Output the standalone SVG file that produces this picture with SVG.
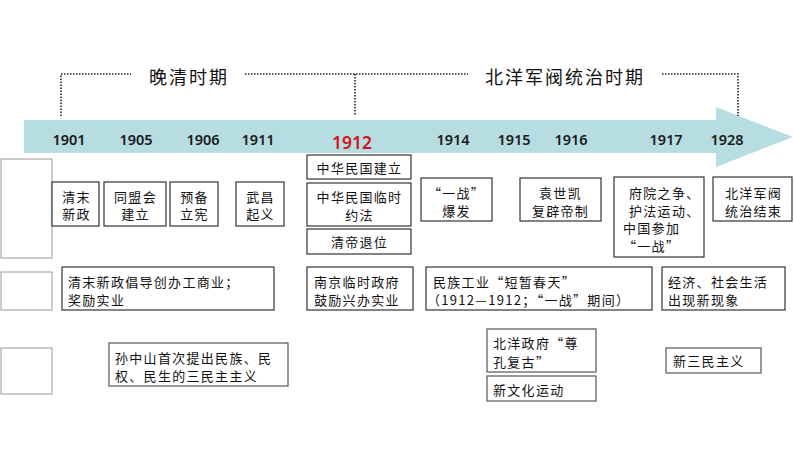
<svg xmlns="http://www.w3.org/2000/svg" width="794" height="450" viewBox="0 0 794 450">
<style>
.t{font-family:"Noto Sans CJK SC","Noto Sans",sans-serif;font-size:13px;fill:#111;dominant-baseline:central;letter-spacing:1.3px}
.c{text-anchor:middle}
.yr{font-family:"Noto Sans","Liberation Sans",sans-serif;font-size:14.5px;fill:#1a1a1a;text-anchor:middle;font-weight:600}
.ttl{font-family:"Noto Sans CJK SC",sans-serif;font-size:18px;fill:#111;dominant-baseline:central;text-anchor:middle;letter-spacing:2px}
.b{fill:#fff;stroke:#333;stroke-width:1.2}
.g{fill:#fff;stroke:#999;stroke-width:1}
.dot{fill:none;stroke:#222;stroke-width:1.6;stroke-dasharray:1.5 1.5}
</style>
<rect width="794" height="450" fill="#fff"/>
<g id="timeline">
<polygon points="24,120 716,120 716,107 793,137 716,167 716,153 24,153" fill="#b6dde1"/>
<text class="yr" x="69" y="145">1901</text>
<text class="yr" x="136" y="145">1905</text>
<text class="yr" x="203" y="145">1906</text>
<text class="yr" x="258" y="145">1911</text>
<text class="yr" x="352" y="149" style="font-size:17.5px;fill:#d0151b">1912</text>
<text class="yr" x="453" y="145">1914</text>
<text class="yr" x="514" y="145">1915</text>
<text class="yr" x="571" y="145">1916</text>
<text class="yr" x="666" y="145">1917</text>
<text class="yr" x="727" y="145">1928</text>
</g>
<g id="connectors">
<polyline class="dot" points="61,116 61,74 131,74"/>
<line class="dot" x1="245" y1="74" x2="468" y2="74"/>
<line class="dot" x1="355" y1="74" x2="355" y2="116"/>
<polyline class="dot" points="662,74 738,74 738,116"/>
</g>
<g id="period-late-qing"><text class="ttl" x="189" y="76">晚清时期</text></g>
<g id="period-beiyang"><text class="ttl" x="565" y="76">北洋军阀统治时期</text></g>
<g id="left-frames">
<rect class="g" x="1" y="159" width="51" height="99"/>
<rect class="g" x="1" y="272" width="51" height="38"/>
<rect class="g" x="1" y="348" width="51" height="46"/>
</g>
<g id="n1901"><rect class="b" x="52" y="182" width="47" height="44"/><text class="t c"><tspan x="76.5" y="195.5">清末</tspan><tspan x="76.5" y="213">新政</tspan></text></g>
<g id="n1905"><rect class="b" x="104" y="182" width="62" height="44"/><text class="t c"><tspan x="135.5" y="195.5">同盟会</tspan><tspan x="135.5" y="213">建立</tspan></text></g>
<g id="n1906"><rect class="b" x="170" y="182" width="48" height="44"/><text class="t c"><tspan x="194.5" y="195.5">预备</tspan><tspan x="194.5" y="213">立宪</tspan></text></g>
<g id="n1911"><rect class="b" x="236" y="182" width="48" height="44"/><text class="t c"><tspan x="260.5" y="195.5">武昌</tspan><tspan x="260.5" y="213">起义</tspan></text></g>
<g id="n1912a"><rect class="b" x="307" y="155" width="104" height="24"/><text class="t c" x="359.5" y="167">中华民国建立</text></g>
<g id="n1912b"><rect class="b" x="307" y="183" width="104" height="43"/><text class="t c"><tspan x="359.5" y="196">中华民国临时</tspan><tspan x="359.5" y="213.5">约法</tspan></text></g>
<g id="n1912c"><rect class="b" x="307" y="229" width="104" height="25"/><text class="t c" x="359.5" y="241.5">清帝退位</text></g>
<g id="n1914"><rect class="b" x="421" y="178" width="71" height="43"/><text class="t c"><tspan x="456.5" y="192">“一战”</tspan><tspan x="456.5" y="209.5">爆发</tspan></text></g>
<g id="n1915"><rect class="b" x="520" y="178" width="81" height="43"/><text class="t c"><tspan x="560.5" y="192">袁世凯</tspan><tspan x="560.5" y="209.5">复辟帝制</tspan></text></g>
<g id="n1917"><rect class="b" x="614" y="177" width="90" height="80"/><text class="t"><tspan x="629" y="192">府院之争、</tspan><tspan x="629" y="209.5">护法运动、</tspan><tspan x="623" y="227">中国参加</tspan><tspan x="623" y="244.5">“一战”</tspan></text></g>
<g id="n1928"><rect class="b" x="713" y="177" width="79" height="44"/><text class="t c"><tspan x="753.5" y="192">北洋军阀</tspan><tspan x="753.5" y="209.5">统治结束</tspan></text></g>
<g id="e1"><rect class="b" x="62" y="267" width="212" height="43"/><text class="t"><tspan x="68" y="281">清末新政倡导创办工商业；</tspan><tspan x="68" y="298.5">奖励实业</tspan></text></g>
<g id="e2"><rect class="b" x="307" y="267" width="106" height="43"/><text class="t"><tspan x="314" y="281">南京临时政府</tspan><tspan x="314" y="298.5">鼓励兴办实业</tspan></text></g>
<g id="e3"><rect class="b" x="426" y="267" width="226" height="43"/><text class="t"><tspan x="433" y="281">民族工业“短暂春天”</tspan><tspan x="427" y="298.5">（1912—1912；“一战”期间）</tspan></text></g>
<g id="e4"><rect class="b" x="662" y="267" width="123" height="43"/><text class="t"><tspan x="668" y="281">经济、社会生活</tspan><tspan x="668" y="298.5">出现新现象</tspan></text></g>
<g id="t1"><rect class="b" x="109" y="343" width="179" height="43" style="stroke:#555"/><text class="t"><tspan x="115" y="357">孙中山首次提出民族、民</tspan><tspan x="115" y="375">权、民生的三民主主义</tspan></text></g>
<g id="t2"><rect class="b" x="487" y="329" width="109" height="43" style="stroke:#555"/><text class="t"><tspan x="493" y="342">北洋政府“尊</tspan><tspan x="493" y="361">孔复古”</tspan></text></g>
<g id="t3"><rect class="b" x="487" y="376" width="109" height="25" style="stroke:#555"/><text class="t" x="493" y="389">新文化运动</text></g>
<g id="t4"><rect class="b" x="666" y="348" width="95" height="25" style="stroke:#555"/><text class="t" x="673" y="360.5">新三民主义</text></g>
</svg>
